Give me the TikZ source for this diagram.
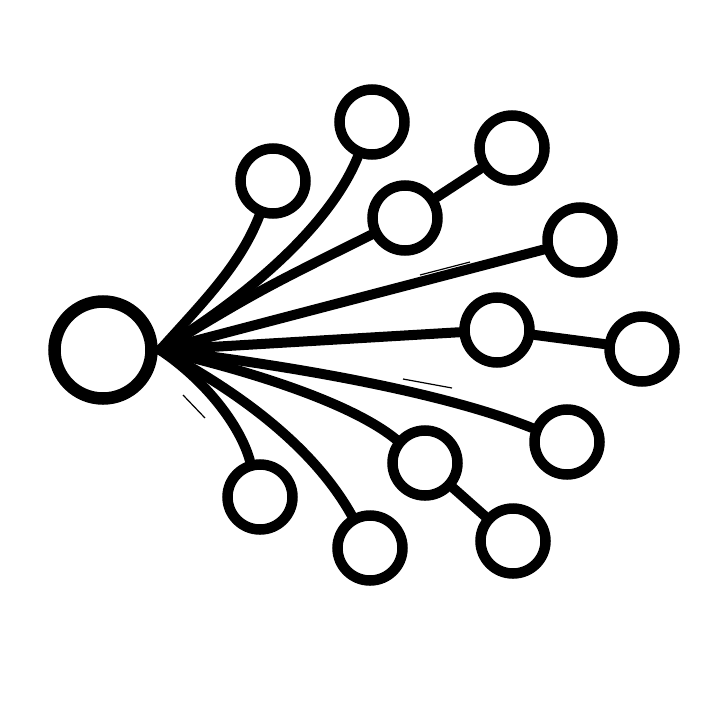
\documentclass[tikz,border=0pt]{standalone}
\begin{document}
\begin{tikzpicture}[x=1pt,y=-1pt,
  leaf/.style={draw=black,circle,line width=10.5pt,minimum size=65pt,inner sep=0pt},
  hubc/.style={draw=black,circle,line width=12.5pt,minimum size=97pt,inner sep=0pt},
  branch/.style={draw=black,line width=10pt,line cap=round},
  sketch/.style={draw=black,line width=1.2pt}]
\useasboundingbox (0,0) rectangle (720,720);
\fill[white] (0,0) rectangle (720,720);
\node[hubc] (hub) at (103,350) {};
\coordinate (h) at (160,350);
\node[leaf] (n1) at (273,181) {};
\node[leaf] (n2) at (372,122) {};
\node[leaf] (n3) at (512,148) {};
\node[leaf] (n4) at (405,218) {};
\node[leaf] (n5) at (580,240) {};
\node[leaf] (n6) at (497,330) {};
\node[leaf] (n7) at (642,349) {};
\node[leaf] (n8) at (567,442) {};
\node[leaf] (n9) at (425,463) {};
\node[leaf] (n10) at (260,497) {};
\node[leaf] (n11) at (370,548) {};
\node[leaf] (n12) at (513,541) {};
\draw[branch] (h) .. controls (205,300) and (240,265) .. (n1);
\draw[branch] (h) .. controls (250,295) and (330,225) .. (n2);
\draw[branch] (h) .. controls (260,290) .. (n4);
\draw[branch] (h) -- (n5);
\draw[branch] (h) -- (n6);
\draw[branch] (h) .. controls (310,368) and (450,395) .. (n8);
\draw[branch] (h) .. controls (280,378) and (360,410) .. (n9);
\draw[branch] (h) .. controls (205,380) and (240,425) .. (n10);
\draw[branch] (h) .. controls (245,395) and (315,450) .. (n11);
\draw[branch] (n4) -- (n3);
\draw[branch] (n6) -- (n7);
\draw[branch] (n9) -- (n12);
\draw[sketch] (420,275) -- (470,262);
\draw[sketch] (403,379) -- (452,388);
\draw[sketch] (183,395) -- (205,418);
\end{tikzpicture}
\end{document}
